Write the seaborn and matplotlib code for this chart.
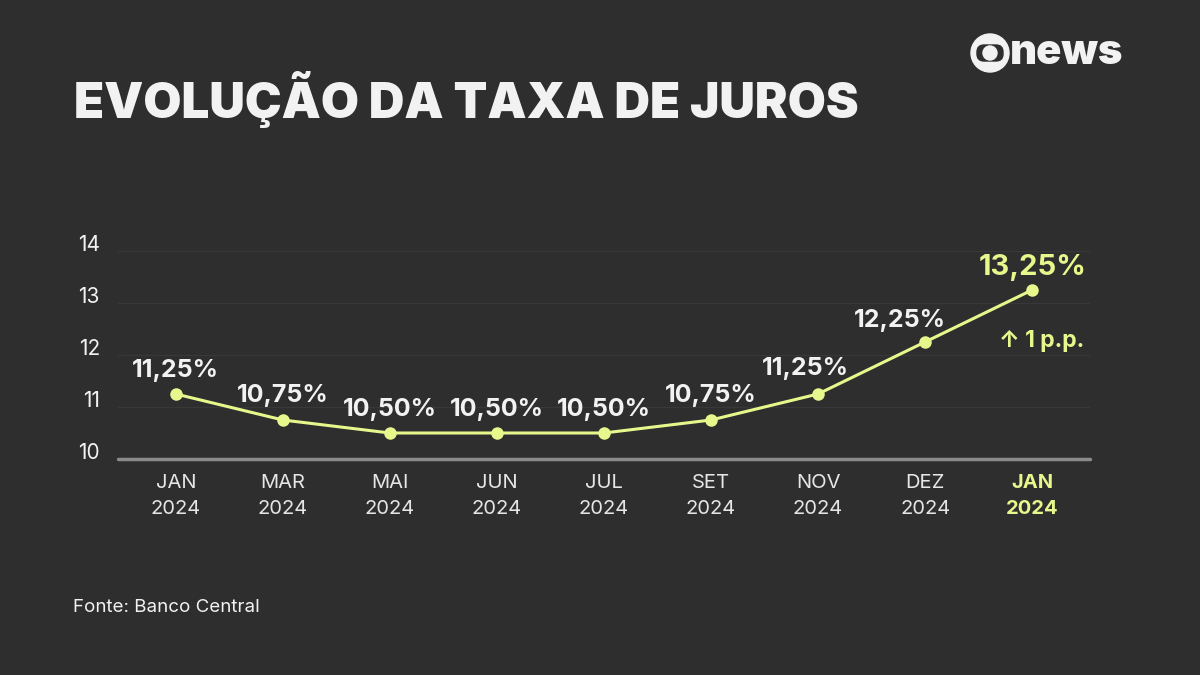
import pandas as pd
import matplotlib.pyplot as plt
import matplotlib.patches as mpatches
import seaborn as sns

# data
months = ['JAN', 'MAR', 'MAI', 'JUN', 'JUL', 'SET', 'NOV', 'DEZ', 'JAN']
years = ['2024'] * 9
taxa = [11.25, 10.75, 10.50, 10.50, 10.50, 10.75, 11.25, 12.25, 13.25]
labels = ['11,25%', '10,75%', '10,50%', '10,50%', '10,50%', '10,75%', '11,25%', '12,25%', '13,25%']
yticks = [10, 11, 12, 13, 14]

bg = '#2e2e2e'
lime = '#e8f78c'
white = '#f2f2f2'

df = pd.DataFrame({'pos': range(len(taxa)), 'taxa': taxa})

sns.set_style("dark")
plt.rcParams['font.family'] = ['Inter', 'DejaVu Sans']

fig = plt.figure(figsize=(12, 6.75), dpi=100)
fig.patch.set_facecolor(bg)
ax = fig.add_axes([0.0983, 0.32, 0.81, 0.3244])
ax.set_facecolor(bg)

sns.lineplot(data=df, x='pos', y='taxa', ax=ax, color=lime, linewidth=2.2,
             marker='o', markersize=9, markeredgewidth=0)

ax.set_xlim(-0.54, 8.54)
ax.set_ylim(10, 14.21)

# faint gridlines
for t in yticks[1:]:
    ax.axhline(t, color='#383838', linewidth=1, zorder=0)
ax.axhline(10, color='#8a8a8a', linewidth=2.5, zorder=1, clip_on=False)

for s in ax.spines.values():
    s.set_visible(False)
ax.set_xlabel('')
ax.set_ylabel('')

ax.set_yticks(yticks)
ax.set_yticklabels([str(t) for t in yticks], color=white, fontsize=15)
ax.tick_params(axis='y', length=0, pad=13)
for lab in ax.get_yticklabels():
    lab.set_va('baseline')

ax.set_xticks(range(len(months)))
ax.set_xticklabels([m + '\n' + y for m, y in zip(months, years)],
                   color='#e6e6e6', fontsize=14.5, linespacing=1.55)
ax.tick_params(axis='x', length=0, pad=11)
last = ax.get_xticklabels()[-1]
last.set_color(lime)
last.set_fontweight('bold')

# value labels
offsets = [(0, 12), (0, 13), (0, 12.5), (0, 12.5), (0, 12.5), (0, 13), (-9, 14), (-18, 11), (0, 11)]
for i, (v, lab) in enumerate(zip(taxa, labels)):
    last_pt = i == len(taxa) - 1
    ax.annotate(lab, (i, v), xytext=offsets[i], textcoords='offset points',
                ha='center', va='baseline', fontsize=21 if last_pt else 18,
                fontweight='bold', color=lime if last_pt else white)

ax.annotate('↑ 1 p.p.', (len(taxa) - 1, taxa[-1]), xytext=(7, -37),
            textcoords='offset points', ha='center', va='center',
            fontsize=16.5, fontweight='bold', color=lime)

# title
fig.text(0.062, 0.852, 'EVOLUÇÃO DA TAXA DE JUROS', color=white, fontsize=35.5,
         fontweight='black', va='center', ha='left')

# logo
lax = fig.add_axes([0, 0, 1, 1], zorder=5)
lax.set_xlim(0, 1200)
lax.set_ylim(0, 675)
lax.axis('off')
lax.add_patch(mpatches.Circle((990, 622), 19, color=white))
lax.add_patch(mpatches.FancyBboxPatch((977, 614), 26, 16,
                                      boxstyle='round,pad=0,rounding_size=7',
                                      color=bg))
lax.add_patch(mpatches.Circle((990, 622), 7, color=white))
lax.text(1010, 622, 'news', color=white, fontsize=30, fontweight='black',
         va='center', ha='left')

fig.text(73 / 1200, 1 - 608 / 675, 'Fonte: Banco Central', color=white,
         fontsize=13.5, va='center', ha='left')

fig.savefig('out.png', dpi=100, facecolor=bg)
